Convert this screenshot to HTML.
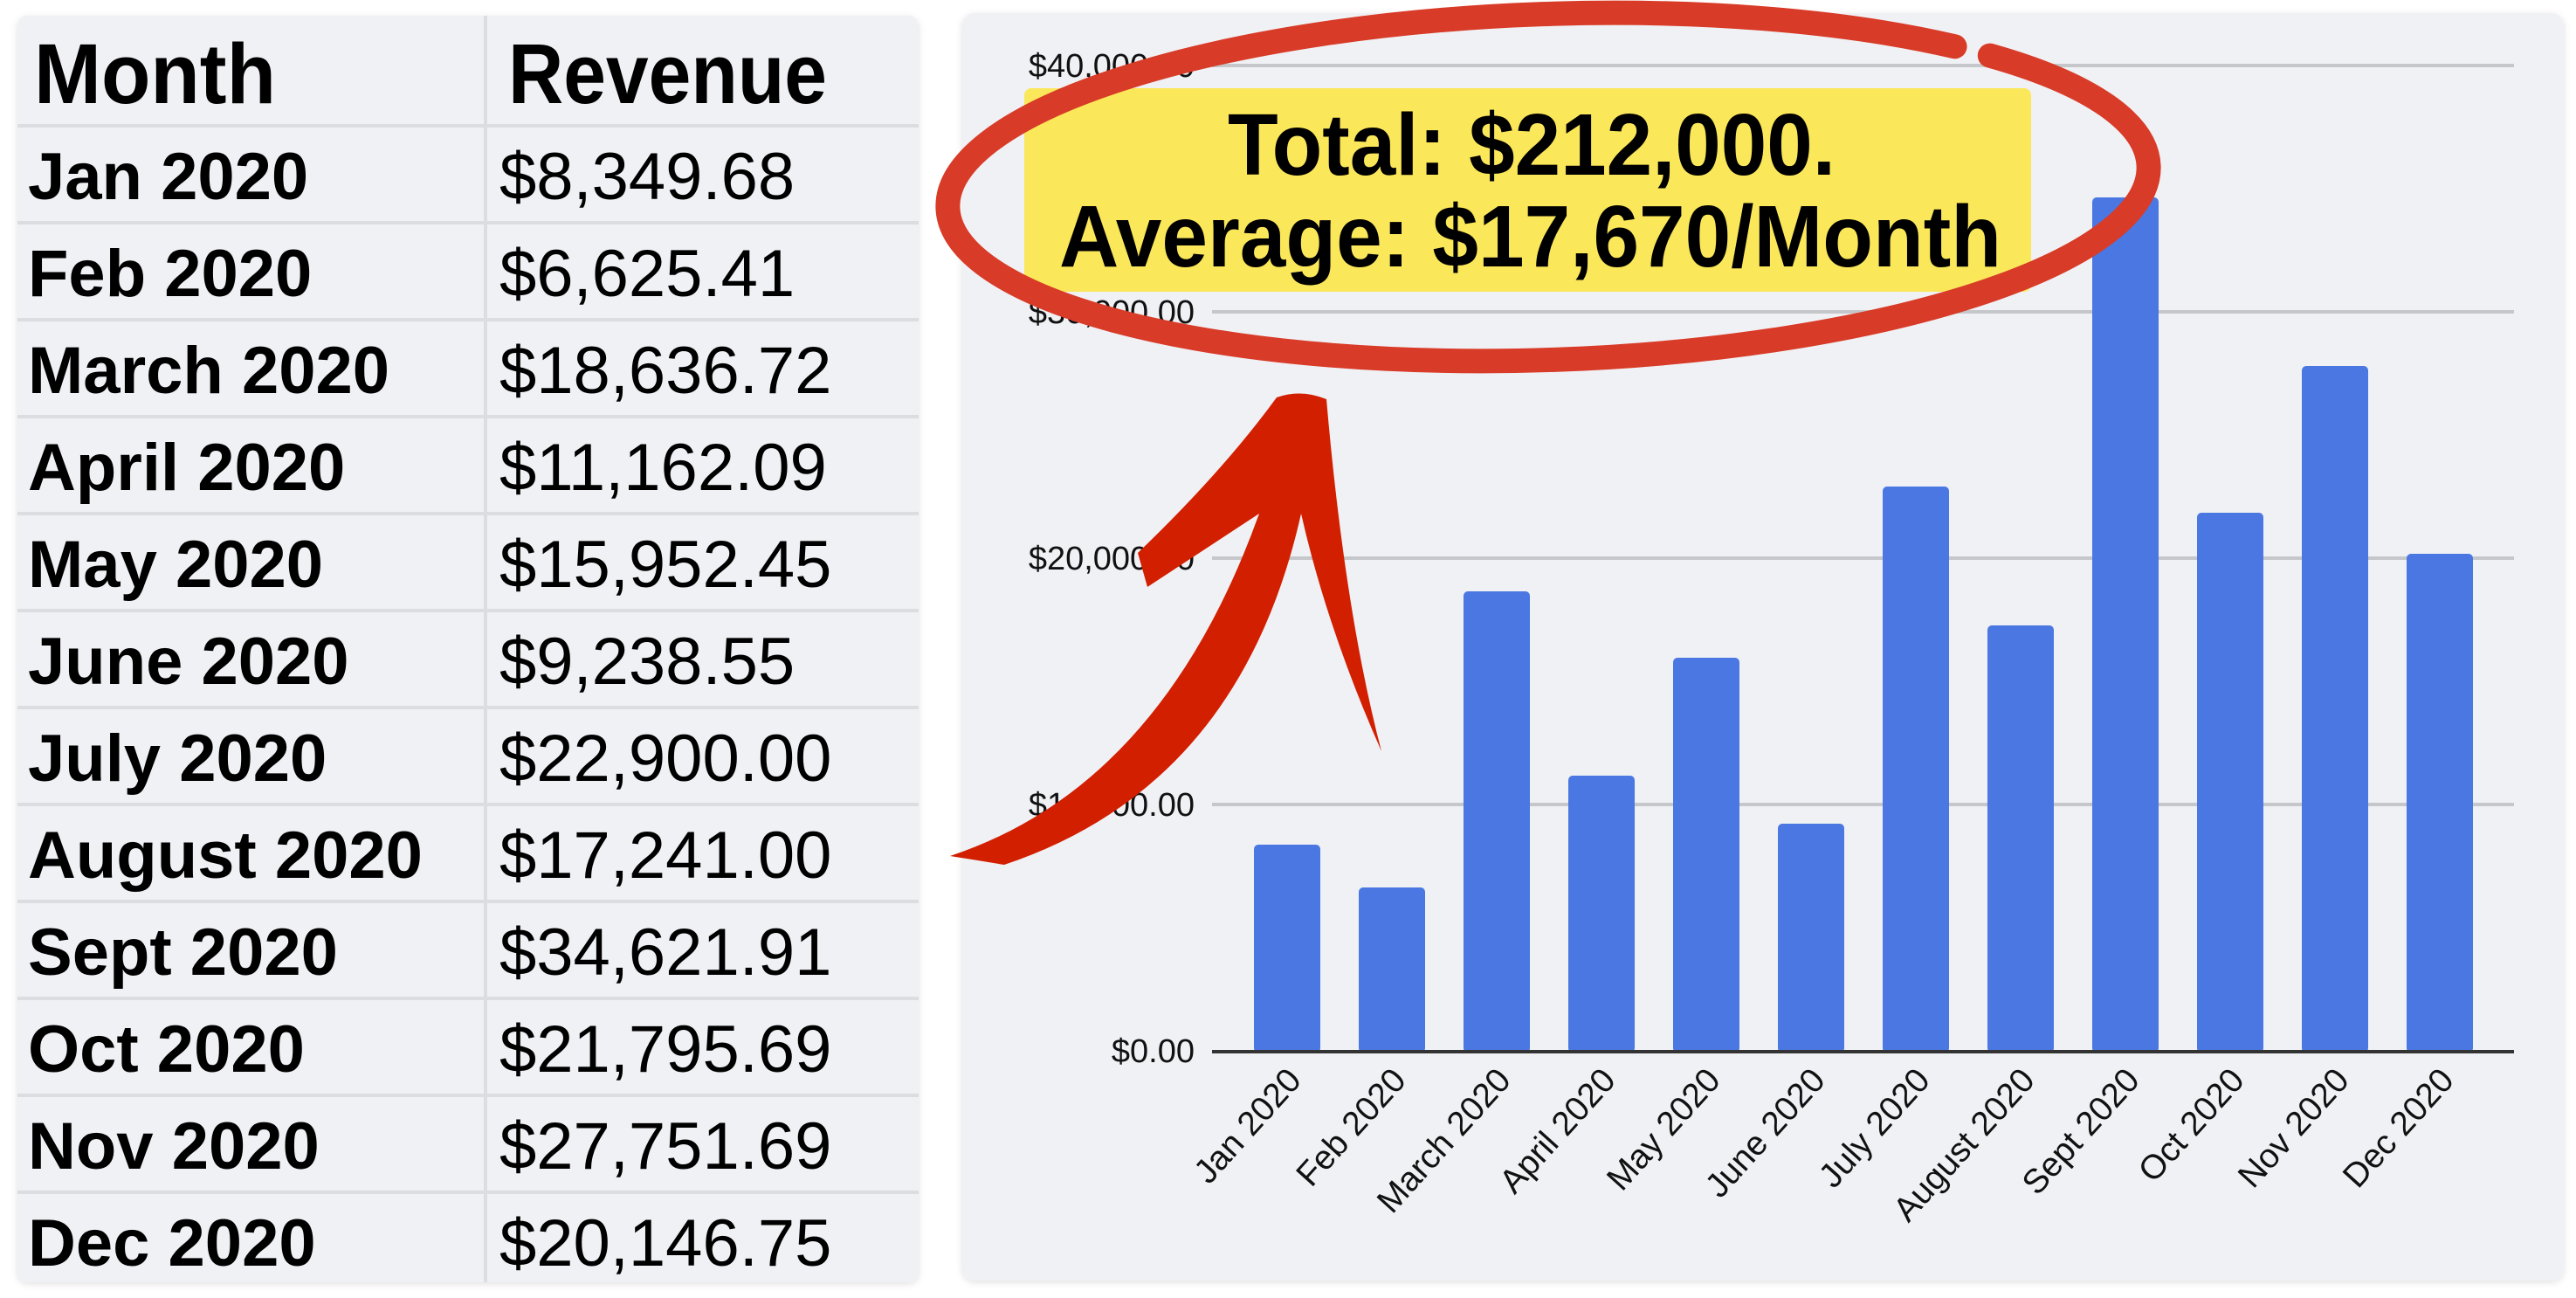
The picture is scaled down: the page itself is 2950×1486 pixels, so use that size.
<!DOCTYPE html>
<html><head><meta charset="utf-8"><style>
html,body{margin:0;padding:0;background:#fff;}
svg{display:block;}
</style></head><body>
<svg width="2950" height="1486" viewBox="0 0 2950 1486" xmlns="http://www.w3.org/2000/svg">
<defs>
<filter id="sh" x="-5%" y="-5%" width="110%" height="110%"><feDropShadow dx="0" dy="2" stdDeviation="4" flood-color="#000" flood-opacity="0.12"/></filter>
</defs>
<rect width="2950" height="1486" fill="#fff"/>
<!-- table panel -->
<rect x="20" y="18" width="1032" height="1450" rx="12" fill="#f0f1f5" filter="url(#sh)"/>
<g stroke="#dcdde0" stroke-width="4">
<line x1="556" y1="18" x2="556" y2="1468"/>
<line x1="20" y1="144" x2="1052" y2="144"/>
<line x1="20" y1="255" x2="1052" y2="255"/>
<line x1="20" y1="366" x2="1052" y2="366"/>
<line x1="20" y1="477" x2="1052" y2="477"/>
<line x1="20" y1="588" x2="1052" y2="588"/>
<line x1="20" y1="699" x2="1052" y2="699"/>
<line x1="20" y1="810" x2="1052" y2="810"/>
<line x1="20" y1="921" x2="1052" y2="921"/>
<line x1="20" y1="1032" x2="1052" y2="1032"/>
<line x1="20" y1="1143" x2="1052" y2="1143"/>
<line x1="20" y1="1254" x2="1052" y2="1254"/>
<line x1="20" y1="1365" x2="1052" y2="1365"/>
</g>
<g font-family="Liberation Sans, sans-serif" fill="#000">
<text x="39" y="118" font-size="97" font-weight="bold" textLength="277" lengthAdjust="spacingAndGlyphs">Month</text>
<text x="582" y="118" font-size="97" font-weight="bold" textLength="365" lengthAdjust="spacingAndGlyphs">Revenue</text>
<g font-size="76" font-weight="bold">
<text x="32" y="228">Jan 2020</text>
<text x="32" y="339">Feb 2020</text>
<text x="32" y="450">March 2020</text>
<text x="32" y="561">April 2020</text>
<text x="32" y="672">May 2020</text>
<text x="32" y="783">June 2020</text>
<text x="32" y="894">July 2020</text>
<text x="32" y="1005">August 2020</text>
<text x="32" y="1116">Sept 2020</text>
<text x="32" y="1227">Oct 2020</text>
<text x="32" y="1338">Nov 2020</text>
<text x="32" y="1449">Dec 2020</text>
</g>
<g font-size="76">
<text x="572" y="228">$8,349.68</text>
<text x="572" y="339">$6,625.41</text>
<text x="572" y="450">$18,636.72</text>
<text x="572" y="561">$11,162.09</text>
<text x="572" y="672">$15,952.45</text>
<text x="572" y="783">$9,238.55</text>
<text x="572" y="894">$22,900.00</text>
<text x="572" y="1005">$17,241.00</text>
<text x="572" y="1116">$34,621.91</text>
<text x="572" y="1227">$21,795.69</text>
<text x="572" y="1338">$27,751.69</text>
<text x="572" y="1449">$20,146.75</text>
</g>
</g>
<!-- chart panel -->
<rect x="1102" y="15" width="1834" height="1451" rx="14" fill="#f0f1f5" filter="url(#sh)"/>
<g stroke="#c6c7ca" stroke-width="4">
<line x1="1388" y1="75" x2="2879" y2="75"/>
<line x1="1388" y1="357" x2="2879" y2="357"/>
<line x1="1388" y1="639" x2="2879" y2="639"/>
<line x1="1388" y1="921" x2="2879" y2="921"/>
</g>
<g font-family="Liberation Sans, sans-serif" font-size="38" fill="#111" text-anchor="end">
<text x="1368" y="88">$40,000.00</text>
<text x="1368" y="370">$30,000.00</text>
<text x="1368" y="652">$20,000.00</text>
<text x="1368" y="934">$10,000.00</text>
<text x="1368" y="1216">$0.00</text>
</g>
<g fill="#4a77e1">
<rect x="1436" y="967" width="76" height="238" rx="5"/>
<rect x="1556" y="1016" width="76" height="189" rx="5"/>
<rect x="1676" y="677" width="76" height="528" rx="5"/>
<rect x="1796" y="888" width="76" height="317" rx="5"/>
<rect x="1916" y="753" width="76" height="452" rx="5"/>
<rect x="2036" y="943" width="76" height="262" rx="5"/>
<rect x="2156" y="557" width="76" height="648" rx="5"/>
<rect x="2276" y="716" width="76" height="489" rx="5"/>
<rect x="2396" y="226" width="76" height="979" rx="5"/>
<rect x="2516" y="587" width="76" height="618" rx="5"/>
<rect x="2636" y="419" width="76" height="786" rx="5"/>
<rect x="2756" y="634" width="76" height="571" rx="5"/>
</g>
<line x1="1388" y1="1204" x2="2879" y2="1204" stroke="#333" stroke-width="4"/>
<g font-family="Liberation Sans, sans-serif" font-size="39" fill="#111" text-anchor="end">
<text transform="translate(1492,1238) rotate(-48)">Jan 2020</text>
<text transform="translate(1612,1238) rotate(-48)">Feb 2020</text>
<text transform="translate(1732,1238) rotate(-48)">March 2020</text>
<text transform="translate(1852,1238) rotate(-48)">April 2020</text>
<text transform="translate(1972,1238) rotate(-48)">May 2020</text>
<text transform="translate(2092,1238) rotate(-48)">June 2020</text>
<text transform="translate(2212,1238) rotate(-48)">July 2020</text>
<text transform="translate(2332,1238) rotate(-48)">August 2020</text>
<text transform="translate(2452,1238) rotate(-48)">Sept 2020</text>
<text transform="translate(2572,1238) rotate(-48)">Oct 2020</text>
<text transform="translate(2692,1238) rotate(-48)">Nov 2020</text>
<text transform="translate(2812,1238) rotate(-48)">Dec 2020</text>
</g>
<!-- yellow box -->
<rect x="1173" y="101" width="1153" height="233" rx="8" fill="#fbe75a"/>
<g font-family="Liberation Sans, sans-serif" font-weight="bold" font-size="100" fill="#000">
<text x="1406" y="200" textLength="696" lengthAdjust="spacingAndGlyphs">Total: $212,000.</text>
<text x="1213" y="305" textLength="1079" lengthAdjust="spacingAndGlyphs">Average: $17,670/Month</text>
</g>
<!-- red ellipse -->
<ellipse cx="1773" cy="214" rx="688" ry="198" transform="rotate(-2 1773 214)" pathLength="360" stroke-dasharray="327 5 28" fill="none" stroke="#d83b27" stroke-width="28" stroke-linecap="round"/>
<!-- arrow -->
<path d="M 1088 980 Q 1330 900 1442 588 L 1314 672 L 1303 633 Q 1400 540 1462 455 Q 1490 445 1519 457 Q 1540 700 1582 860 Q 1520 720 1490 588 Q 1420 900 1150 990 Q 1120 985 1088 980 Z" fill="#d21f00"/>
</svg>
</body></html>
